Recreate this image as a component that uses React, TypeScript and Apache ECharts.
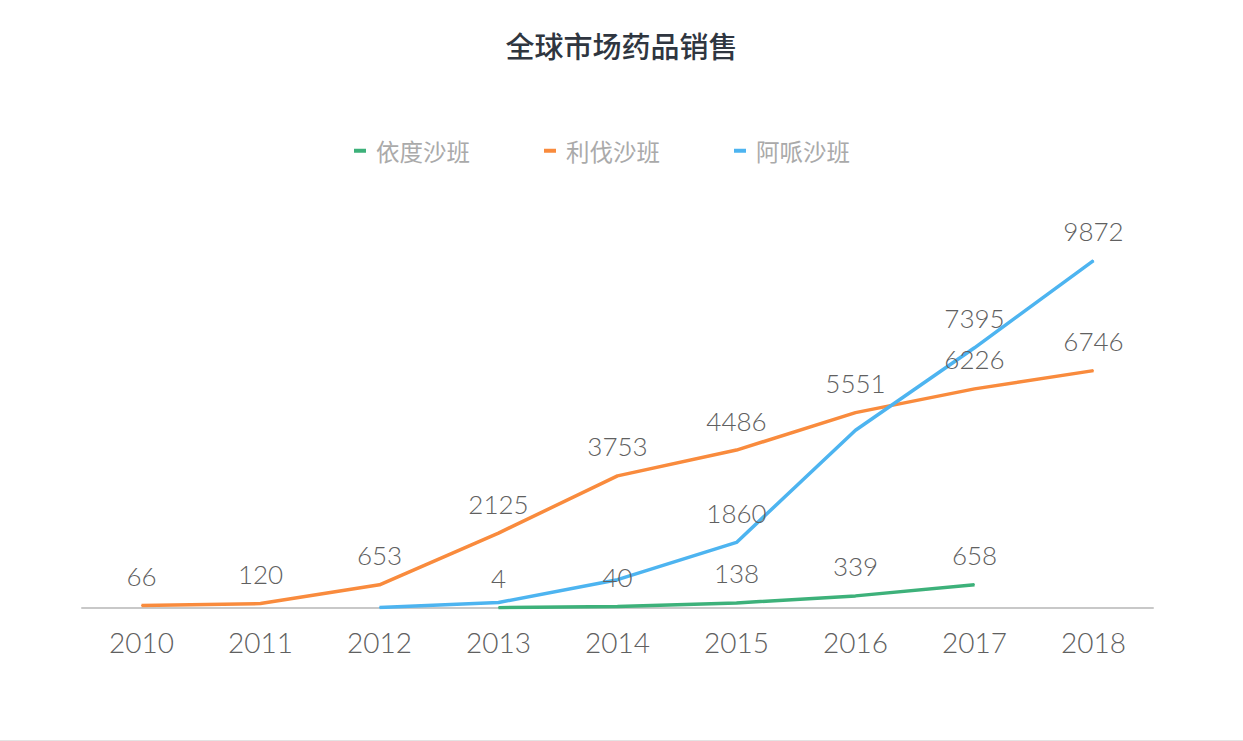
import React, { useEffect, useRef } from "react";
import * as echarts from "echarts";

const years = ["2010", "2011", "2012", "2013", "2014", "2015", "2016", "2017", "2018"];
const seriesNames = ["依度沙班", "利伐沙班", "阿哌沙班"];
const edoxaban = [null, null, null, 4, 40, 138, 339, 658, null];
const rivaroxaban = [66, 120, 653, 2125, 3753, 4486, 5551, 6226, 6746];
const apixaban = [null, null, 10, 150, 800, 1860, 5050, 7395, 9872];
// indices whose data label is not shown in the reference (overlapped labels)
const apixabanHiddenLabels = [2, 3, 4, 6];
const colors = ["#3db17a", "#f98b3d", "#4db4f0"];

function withHidden(values: (number | null)[], hidden: number[]) {
  return values.map((v, i) =>
    hidden.includes(i) ? { value: v, label: { show: false } } : v
  );
}

export default function App() {
  const ref = useRef<HTMLDivElement>(null);
  useEffect(() => {
    if (!ref.current) return;
    const chart = echarts.init(ref.current, undefined, { renderer: "svg" });
    const numFont = "Lato";
    const mkSeries = (name: string, data: any[], color: string) => ({
      name,
      type: "line",
      data,
      symbol: "circle",
      symbolSize: 1,
      showSymbol: true,
      connectNulls: false,
      lineStyle: { color, width: 3.5 },
      itemStyle: { color },
      label: {
        show: true,
        position: "top",
        distance: 16,
        color: "#606060",
        fontSize: 26,
        fontFamily: numFont,
        fontWeight: 300,
      },
      emphasis: { disabled: true },
    });
    chart.setOption({
      animation: false,
      backgroundColor: "#ffffff",
      color: colors,
      title: {
        text: "全球市场药品销售",
        left: "center",
        top: 25,
        textStyle: {
          fontSize: 29,
          fontWeight: 500,
          color: "#2f3640",
          fontFamily: "Noto Sans CJK SC",
        },
      },
      legend: {
        left: 349,
        top: 134,
        icon: "rect",
        itemWidth: 12,
        itemHeight: 4,
        itemGap: 74,
        data: seriesNames,
        textStyle: {
          color: "#aaaaaa",
          fontSize: 23.5,
          fontFamily: "Noto Sans CJK SC",
          padding: [0, 0, 0, 5],
        },
      },
      grid: { left: 82, right: 90, top: 256.2, bottom: 133.2, containLabel: false },
      xAxis: {
        type: "category",
        data: years,
        boundaryGap: true,
        axisLine: { show: true, lineStyle: { color: "#c8c8c8", width: 2 } },
        axisTick: { show: false },
        axisLabel: {
          color: "#606060",
          fontSize: 28,
          fontFamily: numFont,
          fontWeight: 300,
          margin: 20,
        },
      },
      yAxis: {
        type: "value",
        min: 0,
        max: 10000,
        show: false,
        splitLine: { show: false },
      },
      graphic: [
        {
          type: "line",
          shape: { x1: 0, y1: 740.5, x2: 1243, y2: 740.5 },
          style: { stroke: "#e3e3e3", lineWidth: 1 },
        },
      ],
      series: [
        mkSeries(seriesNames[0], edoxaban, colors[0]),
        mkSeries(seriesNames[1], rivaroxaban, colors[1]),
        mkSeries(seriesNames[2], withHidden(apixaban, apixabanHiddenLabels), colors[2]),
      ],
    });
    return () => chart.dispose();
  }, []);
  return (
    <div
      ref={ref}
      style={{ position: "fixed", left: 0, top: 0, width: 1243, height: 741 }}
    />
  );
}
